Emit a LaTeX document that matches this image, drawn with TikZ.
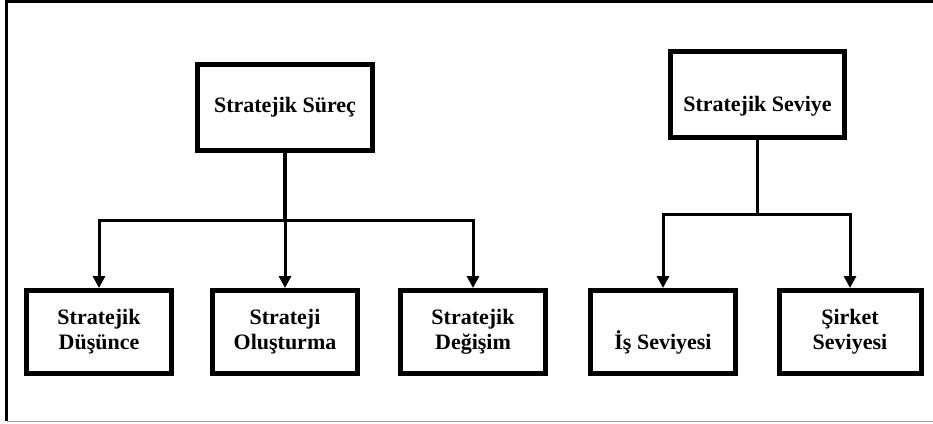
\documentclass[tikz,border=0pt]{standalone}
\usepackage{fontspec}
\setmainfont{Liberation Serif}
\usetikzlibrary{arrows.meta}
\begin{document}
\begin{tikzpicture}[x=1pt,y=-1pt,
  box/.style={draw=black, line width=5pt, fill=white, minimum width=145pt, minimum height=83pt, inner sep=0pt, align=center, font=\fontsize{22}{25}\selectfont\bfseries},
  topbox/.style={box, minimum width=175pt, minimum height=86pt},
  stem/.style={line width=4.5pt},
  thinstem/.style={line width=3.3pt},
  arr/.style={line width=3pt, -{Triangle[width=12pt,length=12pt]}},
]
\useasboundingbox (0,0) rectangle (933,423);
\draw[line width=3pt] (5,1.5) -- (933,1.5);
\draw[line width=2.5pt] (6.5,0) -- (6.5,421);
\draw[black!35, line width=1pt] (6.5,421.5) -- (933,421.5);

\node[topbox] (SS) at (285,107.5) {Stratejik Süreç};
\node[topbox, minimum width=174pt] (SV) at (757.5,94.5) {\vphantom{S}\\Stratejik Seviye};

\node[box] (D1) at (99,332) {Stratejik\\Düşünce};
\node[box] (D2) at (285,332) {Strateji\\Oluşturma};
\node[box] (D3) at (473,332) {Stratejik\\Değişim};
\node[box] (R1) at (663,332) {\vphantom{S}\\İş Seviyesi};
\node[box, minimum width=142pt] (R2) at (850,332) {Şirket\\Seviyesi};

\coordinate (jL) at (285,220);
\coordinate (jR) at (757.5,214);

\draw[stem] (SS.south) -- (jL);
\draw[arr] (jL) -| (D1.north);
\draw[arr] (jL) -| (D3.north);
\draw[arr] (jL) -- (D2.north);

\draw[thinstem] (SV.south) -- (jR);
\draw[arr] (jR) -| (R1.north);
\draw[arr] (jR) -| (R2.north);
\end{tikzpicture}
\end{document}
